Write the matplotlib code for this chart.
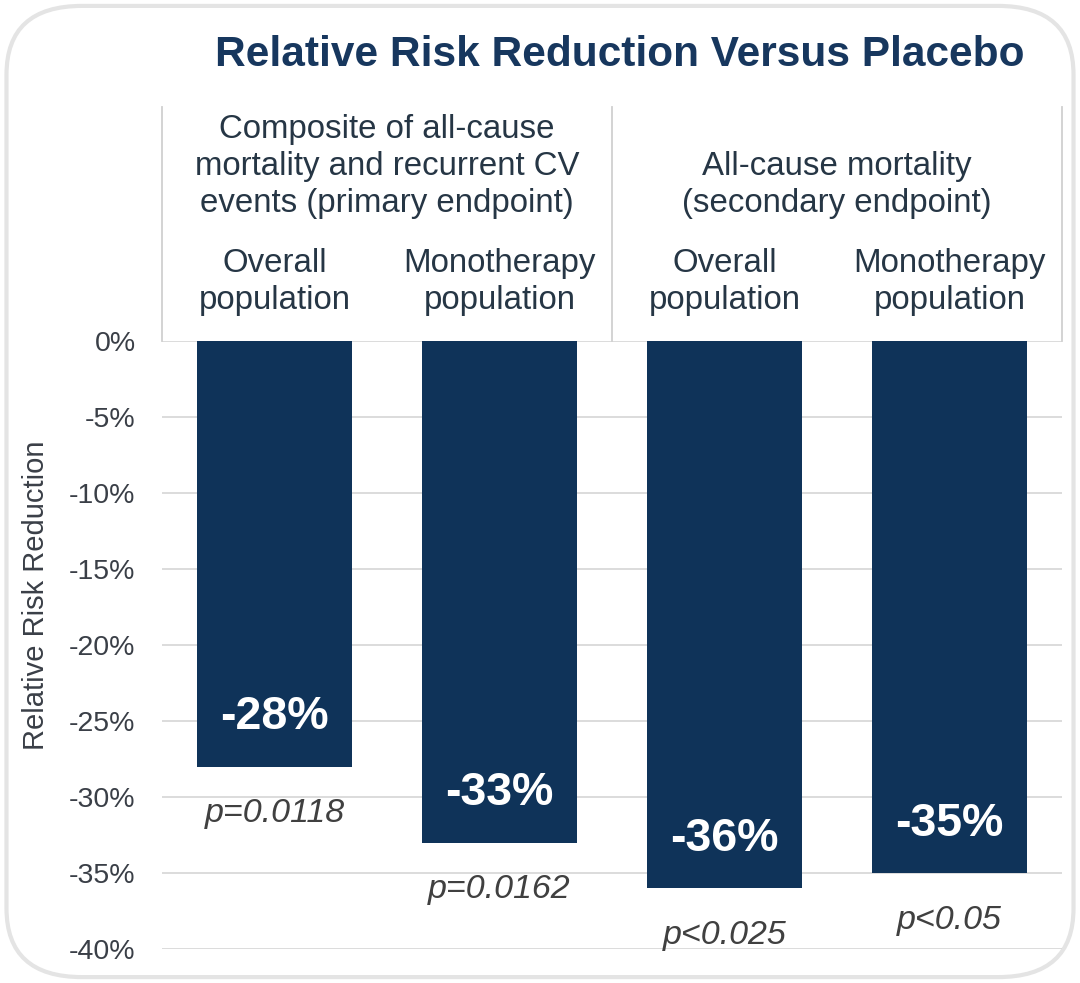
import matplotlib
matplotlib.use("Agg")
import matplotlib.pyplot as plt
from matplotlib.patches import FancyBboxPatch

plt.rcParams["font.family"] = ["Liberation Sans", "DejaVu Sans"]

GROUPS = ["Composite of all-cause\nmortality and recurrent CV\nevents (primary endpoint)",
          "All-cause mortality\n(secondary endpoint)"]
POPULATIONS = ["Overall\npopulation", "Monotherapy\npopulation",
               "Overall\npopulation", "Monotherapy\npopulation"]
VALUES = [-28, -33, -36, -35]
P_LABELS = ["p=0.0118", "p=0.0162", "p<0.025", "p<0.05"]
Y_TICKS = [0, -5, -10, -15, -20, -25, -30, -35, -40]

NAVY = "#0f3359"
TEXT = "#263645"
GRID = "#d9d9d9"

fig = plt.figure(figsize=(10.8, 9.83), dpi=100)

# rounded card frame, kept behind the axes
fig.patches.append(FancyBboxPatch((0.006, 0.006), 0.988, 0.988,
                                  boxstyle="round,pad=0,rounding_size=0.07",
                                  transform=fig.transFigure, fc="white",
                                  ec="#e4e4e4", lw=3, zorder=-5))

ax = fig.add_axes([0.15, 0.0346, 0.8333, 0.6185])
ax.set_facecolor("none")
x = list(range(len(VALUES)))
ax.bar(x, VALUES, width=0.69, color=NAVY, zorder=3)
ax.set_xlim(-0.5, 3.5)
ax.set_ylim(-40, 0)
ax.set_yticks(Y_TICKS)
ax.set_yticklabels([f"{t}%" for t in Y_TICKS])
ax.tick_params(axis="y", length=0, pad=19, labelsize=20.5, labelcolor="#3a3f47")
ax.set_xticks([])
for s in ax.spines.values():
    s.set_visible(False)
for t in Y_TICKS:
    ax.axhline(t, color=GRID, lw=1.3, zorder=1)

# header box above the plot
top = 15.4
hdr = dict(ha="center", va="center", fontsize=23.8, color=TEXT,
           linespacing=1.25, clip_on=False)
for xv in (-0.5, 1.5, 3.5):
    ax.plot([xv, xv], [0, top], color="#d0d0d0", lw=1.3, clip_on=False, zorder=2)
ax.text(0.5, 11.5, GROUPS[0], **hdr)
ax.text(2.5, 10.25, GROUPS[1], **hdr)
for xi, lab in zip(x, POPULATIONS):
    ax.text(xi, 3.9, lab, **hdr)

# bar value labels and p-values
for xi, v, p in zip(x, VALUES, P_LABELS):
    ax.text(xi, v + 3.25, f"{v}%", ha="center", va="center", fontsize=33.5,
            fontweight="bold", color="white", zorder=4)
    ax.text(xi, v - 3.1, p, ha="center", va="center", fontsize=24.5,
            style="italic", color="#404040", zorder=4)

fig.text(0.574, 0.944, "Relative Risk Reduction Versus Placebo", ha="center",
         va="center", fontsize=30.5, fontweight="bold", color="#17375e")
fig.text(0.033, 0.394, "Relative Risk Reduction", ha="center", va="center",
         rotation=90, fontsize=21, color="#3a3f47")

fig.savefig("out.png", dpi=100)
